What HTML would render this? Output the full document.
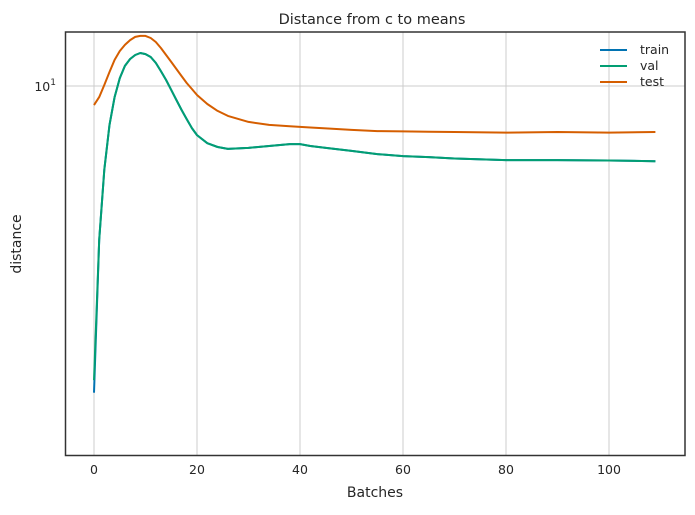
<!DOCTYPE html>
<html><head><meta charset="utf-8"><style>
body{margin:0;background:#fff;font-family:"Liberation Sans","DejaVu Sans",sans-serif}
</style></head><body>
<svg id="chart" width="695" height="510" xmlns="http://www.w3.org/2000/svg" font-family="DejaVu Sans, Liberation Sans, sans-serif">
<rect width="695" height="510" fill="#fff"/>
<g id="grid"></g>
<g id="series"></g>
<rect x="65.5" y="32" width="619.5" height="423.5" fill="none" stroke="#333" stroke-width="1.5"/>
<g id="ticks" font-size="12.5" fill="#262626"></g>
<text x="372" y="24" text-anchor="middle" font-size="14.5" fill="#262626">Distance from c to means</text>
<text x="375" y="497" text-anchor="middle" font-size="14" fill="#262626">Batches</text>
<text x="21" y="244" text-anchor="middle" font-size="14" fill="#262626" transform="rotate(-90 21 244)">distance</text>
<g id="legend" font-size="12.5" fill="#262626"></g>
</svg>
<script>
const xs = [0,1,2,3,4,5,6,7,8,9,10,11,12,13,14,15,16,17,18,19,20,22,24,26,30,34,38,40,42,45,50,55,60,65,70,80,90,100,109];
const valVals = [3.11,5.43,7.17,8.57,9.57,10.32,10.83,11.13,11.31,11.40,11.35,11.22,10.96,10.61,10.24,9.84,9.46,9.09,8.77,8.46,8.23,7.97,7.85,7.79,7.82,7.88,7.94,7.94,7.88,7.82,7.73,7.63,7.57,7.54,7.50,7.45,7.45,7.44,7.42];
const trainVals = [2.96,5.43,7.17,8.57,9.57,10.32,10.83,11.13,11.31,11.40,11.35,11.22,10.96,10.61,10.24,9.84,9.46,9.09,8.77,8.46,8.23,7.97,7.85,7.79,7.82,7.88,7.94,7.94,7.88,7.82,7.73,7.63,7.57,7.54,7.50,7.45,7.45,7.44,7.42];
const testVals = [9.27,9.57,10.04,10.57,11.09,11.49,11.77,12.00,12.15,12.20,12.20,12.10,11.91,11.63,11.31,11.00,10.70,10.40,10.12,9.88,9.65,9.31,9.06,8.88,8.67,8.57,8.52,8.50,8.48,8.45,8.40,8.36,8.35,8.34,8.33,8.31,8.33,8.31,8.33];
const xTicks = [0,20,40,60,80,100];
const seriesNames = ["train","val","test"];
const colors = ["#0173b2","#029e73","#d55e00"];

const NS = "http://www.w3.org/2000/svg";
function xScale(v){ return 94 + v*5.15; }
function yScale(v){ return 86 - 580*Math.log10(v/10); }
function mk(tag, attrs, parent){ const e=document.createElementNS(NS,tag); for(const k in attrs) e.setAttribute(k,attrs[k]); parent.appendChild(e); return e; }

const grid=document.getElementById('grid'), ticks=document.getElementById('ticks');
xTicks.forEach(t=>{
  const l=mk('line',{x1:xScale(t),x2:xScale(t),y1:32,y2:455,stroke:'#cccccc','stroke-width':1},grid);
  
  
  const tx=mk('text',{x:xScale(t),y:474,'text-anchor':'middle'},ticks);
  tx.textContent=t;
  
  
});
const gy=mk('line',{x1:65,x2:685,y1:yScale(10),y2:yScale(10),stroke:'#cccccc','stroke-width':1},grid);


const yt=mk('text',{x:56,y:yScale(10)+5,'text-anchor':'end'},ticks);
yt.innerHTML='10<tspan dy="-6" font-size="9">1</tspan>';



const ser=document.getElementById('series');
[trainVals,valVals,testVals].forEach((vals,i)=>{
  const d=vals.map((v,j)=>(j?'L':'M')+xScale(xs[j]).toFixed(1)+','+yScale(v).toFixed(1)).join('');
  const p=mk('path',{d:d,fill:'none',stroke:colors[i],'stroke-width':2,'stroke-linejoin':'round'},ser);
  
  
});

const lg=document.getElementById('legend');
seriesNames.forEach((n,i)=>{
  const y=50+i*16;
  const l=mk('line',{x1:600,x2:627,y1:y,y2:y,stroke:colors[i],'stroke-width':2},lg);
  
  
  const t=mk('text',{x:640,y:y+4},lg);
  t.textContent=n;
  
  
});
</script>
</body></html>
